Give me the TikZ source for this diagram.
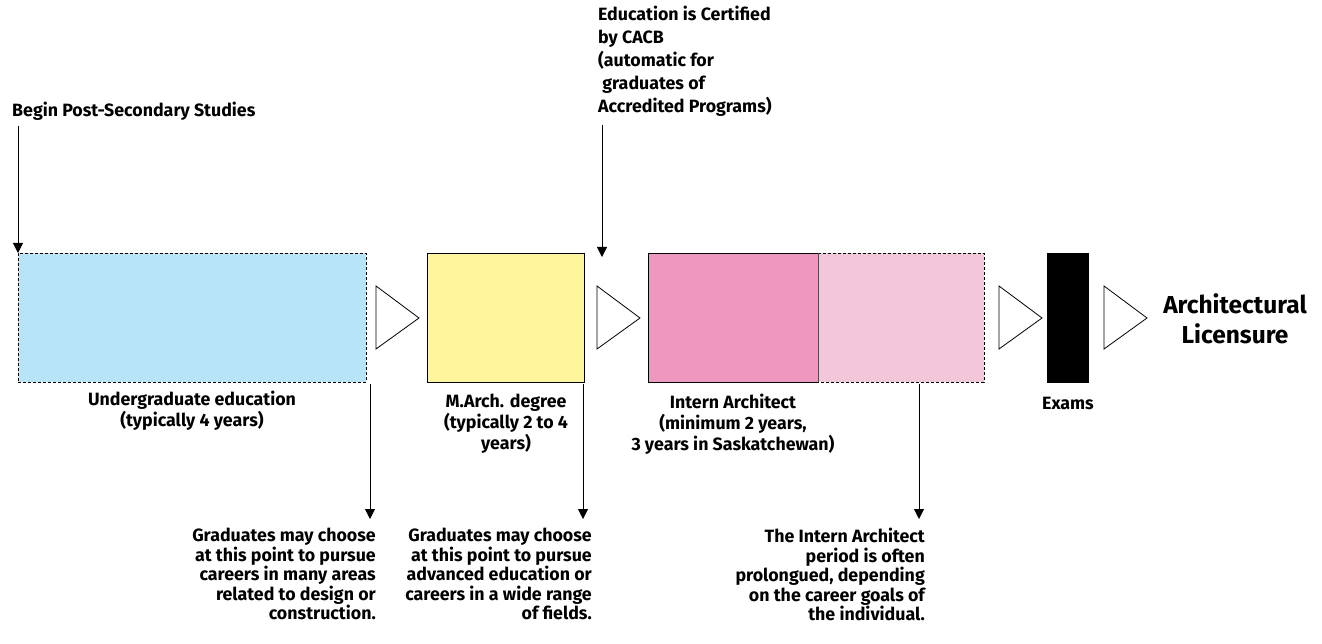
\documentclass[tikz,border=0pt]{standalone}
\usepackage{fontspec}
\setmainfont{Fira Sans}
\usetikzlibrary{arrows.meta}
\definecolor{ugblue}{HTML}{B8E4F8}
\definecolor{myellow}{HTML}{FEF59C}
\definecolor{pinkdark}{HTML}{F097C0}
\definecolor{pinklight}{HTML}{F4C6DA}
\tikzset{
  blk/.style={inner sep=0pt, outer sep=0pt, anchor=north west, minimum height=129pt},
  dsh/.style={dash pattern=on 3pt off 2pt, line width=0.8pt},
  chev/.style={draw=black, fill=white, line width=0.8pt, line join=miter},
  lbl/.style={font=\fontsize{17.8}{21}\selectfont\bfseries, inner sep=0pt, align=center},
  rlbl/.style={font=\fontsize{17.8}{19.5}\selectfont\bfseries, inner sep=0pt, align=right, anchor=north east},
  tlbl/.style={font=\fontsize{17.8}{23}\selectfont\bfseries, inner sep=0pt, align=left, anchor=north west},
  arr/.style={-{Triangle[length=10pt,width=10pt]}, line width=0.8pt}
}
\begin{document}
\begin{tikzpicture}[x=1pt,y=-1pt]
\useasboundingbox (0,0) rectangle (1322,644);
% boxes
\node[blk, fill=ugblue, draw=black, dsh, minimum width=348pt] (ug) at (18,253) {};
\node[blk, fill=myellow, draw=black, line width=0.8pt, minimum width=157pt] (ma) at (427,253) {};
\node[blk, fill=pinkdark, minimum width=170pt] (ia) at (648,253) {};
\node[blk, fill=pinklight, minimum width=166pt] (ib) at (818,253) {};
\draw[line width=0.8pt] (ia.north east) -- (ia.north west) -- (ia.south west) -- (ia.south east);
\draw[dsh] (ib.north west) -- (ib.north east) -- (ib.south east) -- (ib.south west);
\draw[line width=0.8pt, black!70] (ia.north east) -- (ia.south east);
\node[blk, fill=black, minimum width=42pt, minimum height=130pt] (ex) at (1047,253) {};
% chevrons
\draw[chev] (376,286) -- (419,318) -- (376,349) -- cycle;
\draw[chev] (597,286) -- (640,318) -- (597,349) -- cycle;
\draw[chev] (999,286) -- (1042,318) -- (999,349) -- cycle;
\draw[chev] (1104,286) -- (1147,318) -- (1104,349) -- cycle;
% labels under boxes
\node[lbl] (ugl) at (192,411) {Undergraduate education\\(typically 4 years)};
\node[lbl] (mal) at (506,424) {M.Arch. degree\\(typically 2 to 4\\years)};
\node[lbl] (ial) at (733,424) {Intern Architect\\(minimum 2 years,\\3 years in Saskatchewan)};
\node[lbl] (exl) at (1068,403) {Exams};
\node[lbl, font=\fontsize{24.5}{30}\selectfont\bfseries] (lic) at (1235,319) {Architectural\\Licensure};
% top labels
\node[tlbl, anchor=west] (beg) at (12,111) {Begin Post-Secondary Studies};
\node[tlbl] (cert) at (598,6) {Education is Certified\\by CACB\\(automatic for\\\ graduates of\\Accredited Programs)};
\coordinate (begs) at (18,126);
\coordinate (certs) at (602,125);
\draw[arr] (begs) -- (ug.north west);
\draw[arr] (certs) -- (602,257);
% bottom notes
\node[rlbl] (n1) at (376,528) {Graduates may choose\\at this point to pursue\\careers in many areas\\related to design or\\construction.};
\node[rlbl] (n2) at (592,528) {Graduates may choose\\at this point to pursue\\advanced education or\\careers in a wide range\\of fields.};
\node[rlbl] (n3) at (925,528) {The Intern Architect\\period is often\\prolongued, depending\\on the career goals of\\the individual.};
\draw[arr] (370,384) -- (370,519);
\draw[arr] (583,384) -- (583,519);
\draw[arr] (919,384) -- (919,519);
\end{tikzpicture}
\end{document}
